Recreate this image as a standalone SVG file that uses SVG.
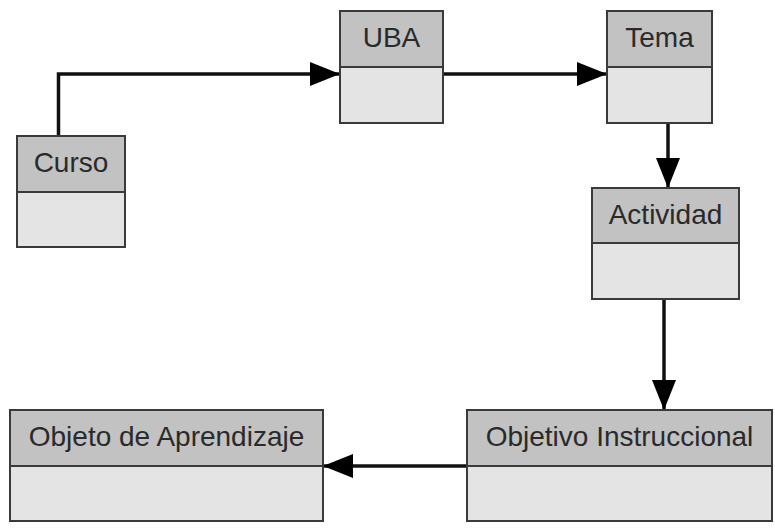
<svg xmlns="http://www.w3.org/2000/svg" width="775" height="529" viewBox="0 0 775 529">
<defs>
<marker id="arr" markerUnits="userSpaceOnUse" markerWidth="30" markerHeight="26" refX="30" refY="13" orient="auto" viewBox="0 0 30 26">
<path d="M0,1 L30,13 L0,25 Z" fill="#000"/>
</marker>
</defs>
<style>
.hd{fill:#c2c2c2;stroke:#3a3a3a;stroke-width:2}
.bd{fill:#e4e4e4;stroke:#3a3a3a;stroke-width:2}
.lbl{font-family:"Liberation Sans",Arial,sans-serif;font-size:28px;fill:#2a2a2a;text-anchor:middle}
.cn{fill:none;stroke:#111;stroke-width:3.5;marker-end:url(#arr)}
</style>
<rect width="775" height="529" fill="#fff"/>
<g id="connectors">
<path class="cn" d="M58.5,136 V74 H340"/>
<path class="cn" d="M443,74 H607"/>
<path class="cn" d="M668,123 V188"/>
<path class="cn" d="M664,299 V410"/>
<path class="cn" d="M467,466 H323"/>
</g>
<g id="curso">
<rect class="bd" x="17" y="192" width="108" height="55"/>
<rect class="hd" x="17" y="136" width="108" height="56"/>
<text class="lbl" x="71" y="172">Curso</text>
</g>
<g id="uba">
<rect class="bd" x="340" y="67" width="103" height="56"/>
<rect class="hd" x="340" y="11" width="103" height="56"/>
<text class="lbl" x="391.5" y="47">UBA</text>
</g>
<g id="tema">
<rect class="bd" x="607" y="67" width="105" height="56"/>
<rect class="hd" x="607" y="11" width="105" height="56"/>
<text class="lbl" x="659.5" y="47">Tema</text>
</g>
<g id="actividad">
<rect class="bd" x="592" y="243" width="147" height="56"/>
<rect class="hd" x="592" y="188" width="147" height="55"/>
<text class="lbl" x="665.5" y="224">Actividad</text>
</g>
<g id="objetivo">
<rect class="bd" x="467" y="466" width="305" height="55"/>
<rect class="hd" x="467" y="410" width="305" height="56"/>
<text class="lbl" x="619.5" y="446">Objetivo Instruccional</text>
</g>
<g id="objeto">
<rect class="bd" x="10" y="466" width="313" height="55"/>
<rect class="hd" x="10" y="410" width="313" height="56"/>
<text class="lbl" x="166.5" y="446">Objeto de Aprendizaje</text>
</g>
</svg>
